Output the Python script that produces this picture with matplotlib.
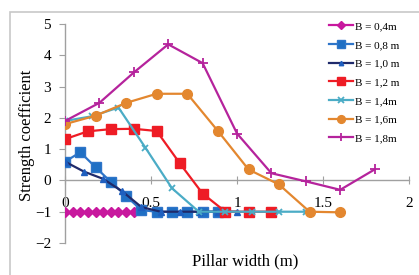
import matplotlib
matplotlib.use("Agg")
import matplotlib.pyplot as plt
from matplotlib.patches import Rectangle

plt.rcParams['font.family'] = ['Liberation Serif', 'DejaVu Serif']

labels = ["B = 0,4m", "B = 0,8 m", "B = 1,0 m", "B = 1,2 m", "B = 1,4m", "B = 1,6m", "B = 1,8m"]

x04 = [0, 0.044, 0.089, 0.133, 0.178, 0.222, 0.267, 0.311, 0.356, 0.4]
y04 = [-1, -1, -1, -1, -1, -1, -1, -1, -1, -1]

x08 = [0, 0.089, 0.178, 0.267, 0.356, 0.444, 0.533, 0.622, 0.711, 0.8, 0.889]
y08 = [0.6, 0.9, 0.42, -0.05, -0.5, -0.95, -1, -1, -1, -1, -1]

x10 = [0, 0.111, 0.222, 0.333, 0.444, 0.556, 0.667, 0.778, 0.889, 1.0]
y10 = [0.6, 0.28, 0.05, -0.35, -0.85, -1, -1, -1, -1, -1]

x12 = [0, 0.133, 0.267, 0.4, 0.533, 0.667, 0.8, 0.933, 1.067, 1.2]
y12 = [1.32, 1.57, 1.64, 1.65, 1.58, 0.55, -0.42, -1, -1, -1]

x14 = [0, 0.156, 0.311, 0.467, 0.622, 0.778, 0.933, 1.089, 1.244, 1.4]
y14 = [1.9, 2.05, 2.33, 1.05, -0.25, -1, -1, -1, -1, -1]

x16 = [0, 0.178, 0.356, 0.533, 0.711, 0.889, 1.067, 1.244, 1.422, 1.6]
y16 = [1.8, 2.07, 2.48, 2.77, 2.77, 1.58, 0.35, -0.13, -1.0, -1.02]

x18 = [0, 0.2, 0.4, 0.6, 0.8, 1.0, 1.2, 1.4, 1.6, 1.8]
y18 = [1.9, 2.48, 3.45, 4.35, 3.75, 1.5, 0.23, -0.03, -0.3, 0.35]

xticks = [0, 0.5, 1, 1.5, 2]
xticklabels = ["0", "0.5", "1", "1.5", "2"]
yticks = [-2, -1, 0, 1, 2, 3, 4, 5]

fig = plt.figure(figsize=(4.19, 2.75), dpi=100)
W, H = 419, 275
ax = fig.add_axes([65 / W, 1 - 243 / H, 344 / W, 219 / H])

# outer chart border
fig.patches.append(Rectangle((10 / W, -0.1), 1.2, 1 - 12 / H + 0.1, transform=fig.transFigure,
                             fill=False, edgecolor='#C8C8C8', linewidth=1.2))

lw = 1.6
ax.plot(x04, y04, color='#C8189E', lw=lw, marker='D', ms=5, mfc='#C8189E', mec='#C8189E', label=labels[0], zorder=3)
ax.plot(x08, y08, color='#2E75C9', lw=lw, marker='s', ms=6.5, mfc='#1F6FC4', mec='#2E75C9', label=labels[1], zorder=3)
ax.plot(x10, y10, color='#1F2A6B', lw=lw, marker='^', ms=4, mfc='#1F5FBF', mec='#1F5FBF', label=labels[2], zorder=4)
ax.plot(x12, y12, color='#EE1C25', lw=lw, marker='s', ms=7.5, mfc='#EE1C25', mec='#EE1C25', label=labels[3], zorder=5)
ax.plot(x14, y14, color='#4BACC6', lw=lw, marker='x', ms=5, mew=1.3, mec='#4BACC6', label=labels[4], zorder=6)
ax.plot(x16, y16, color='#E3872F', lw=lw, marker='o', ms=7, mfc='#E3872F', mec='#E3872F', label=labels[5], zorder=7)
ax.plot(x18, y18, color='#B5239C', lw=lw, marker='+', ms=7, mew=1.3, mec='#B5239C', label=labels[6], zorder=8)

ax.set_xlim(0, 2)
ax.set_ylim(-2, 5)
ax.set_xticks(xticks)
ax.set_xticklabels(xticklabels)
ax.set_yticks(yticks)

for s in ['top', 'right']:
    ax.spines[s].set_visible(False)
ax.spines['bottom'].set_position(('data', 0))
for s in ['left', 'bottom']:
    ax.spines[s].set_color('#A0A0A0')
    ax.spines[s].set_linewidth(1.0)

ax.tick_params(axis='y', direction='out', length=4, color='#A0A0A0', labelsize=11, pad=6)
ax.tick_params(axis='x', direction='inout', length=6, color='#A0A0A0', labelsize=11, pad=9)
ax.patch.set_alpha(0)

ax.set_xlabel("Pillar width (m)", fontsize=12)
ax.set_ylabel("Strength coefficient", fontsize=12)
ax.xaxis.set_label_coords((245 - 65) / 344, (243 - 253) / 219)
ax.yaxis.set_label_coords((35 - 65) / 344, (243 - 135) / 219)

leg = ax.legend(loc='upper left', bbox_to_anchor=(323 / W, 1 - 16 / H), bbox_transform=fig.transFigure,
                frameon=False, fontsize=8, handlelength=2.2, handletextpad=0.2,
                labelspacing=0.8, borderpad=0, markerscale=0.8)

fig.savefig("out.png", dpi=100)
